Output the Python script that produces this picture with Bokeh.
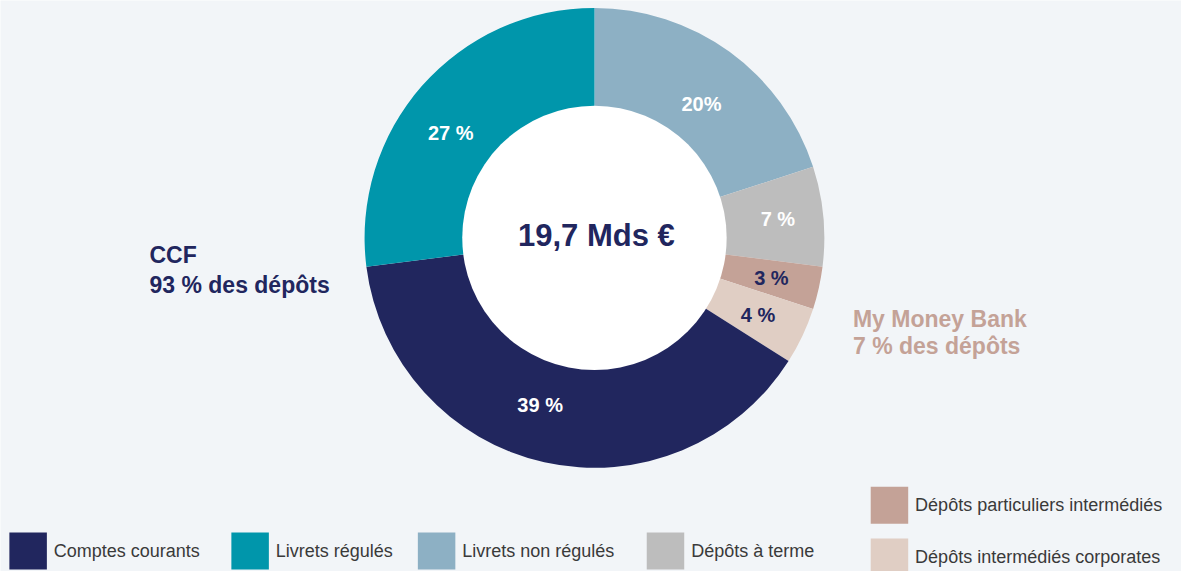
import math
from bokeh.plotting import figure
from bokeh.models import Range1d, ColumnDataSource
from bokeh.embed import file_html
from bokeh.resources import INLINE
from bokeh.core.properties import value

# ---- data ----
categories = ["Livrets non régulés", "Dépôts à terme", "Dépôts particuliers intermédiés",
              "Dépôts intermédiés corporates", "Comptes courants", "Livrets régulés"]
shares = [20, 7, 3, 4, 39, 27]
slice_labels = ["20%", "7 %", "3 %", "4 %", "39 %", "27 %"]
colors = ["#8DB0C4", "#BDBDBD", "#C4A297", "#E0CEC4", "#21265E", "#0096AB"]
label_colors = ["#FFFFFF", "#FFFFFF", "#21265E", "#21265E", "#FFFFFF", "#FFFFFF"]
legend_order = ["Comptes courants", "Livrets régulés", "Livrets non régulés", "Dépôts à terme",
                "Dépôts particuliers intermédiés", "Dépôts intermédiés corporates"]
center_text = "19,7 Mds €"
ccf_lines = ["CCF", "93 % des dépôts"]
mmb_lines = ["My Money Bank", "7 % des dépôts"]

# ---- layout / style ----
BG = "#F2F5F8"
NAVY = "#21265E"
ROSE = "#C4A297"
FONT = "Liberation Sans"
W, H = 1181, 571
REF_W, REF_H = 1197, 587
cx, cy = 602, REF_H - 244
R_OUT, R_IN = 233, 134
label_r = [175, 187, 184, 184, 180, 181]
label_nudge_deg = [2.3, -0.7, 0.3, 0.5, 5.2, -5.0]   # clockwise nudges

def fy(y):
    return REF_H - y

p = figure(width=W, height=H, output_backend="svg", toolbar_location=None,
           x_range=Range1d(0, REF_W), y_range=Range1d(0, REF_H),
           min_border=0, background_fill_color=BG, border_fill_color=BG,
           outline_line_color=None)
p.axis.visible = False
p.grid.visible = False

total = sum(shares)
starts, ends, lx, ly = [], [], [], []
cum = 0
for s, r, nd in zip(shares, label_r, label_nudge_deg):
    a0 = math.pi / 2 - 2 * math.pi * cum / total
    a1 = math.pi / 2 - 2 * math.pi * (cum + s) / total
    mid = (a0 + a1) / 2 - math.radians(nd)
    starts.append(a0)
    ends.append(a1)
    lx.append(cx + r * math.cos(mid))
    ly.append(cy + r * math.sin(mid))
    cum += s

src = ColumnDataSource(dict(start=starts, end=ends, color=colors, cat=categories,
                            lx=lx, ly=ly, lab=slice_labels, lc=label_colors))
p.annular_wedge(x=cx, y=cy, inner_radius=R_IN - 2, outer_radius=R_OUT,
                start_angle="start", end_angle="end", direction="clock",
                fill_color="color", line_color=None, source=src)
p.circle(x=[cx], y=[cy], radius=R_IN, fill_color="#FFFFFF", line_color=None)

p.text(x="lx", y="ly", text="lab", text_color="lc", source=src,
       text_font=value(FONT), text_font_style="bold", text_font_size="20px",
       text_align="center", text_baseline="middle")

p.text(x=[cx + 2], y=[cy + 2], text=[center_text], text_color=NAVY,
       text_font=value(FONT), text_font_style="bold", text_font_size="31px",
       text_align="center", text_baseline="middle")

# group annotations
for i, t in enumerate(ccf_lines):
    p.text(x=[151], y=[fy(262 + 30 * i)], text=[t], text_color=NAVY,
           text_font=value(FONT), text_font_style="bold", text_font_size="23px",
           text_align="left", text_baseline="alphabetic")
for i, t in enumerate(mmb_lines):
    p.text(x=[864], y=[fy(327 + 28 * i)], text=[t], text_color=ROSE,
           text_font=value(FONT), text_font_style="bold", text_font_size="23px",
           text_align="left", text_baseline="alphabetic")

# legend
leg_pos = [(28, 566), (253, 566), (442, 566), (674, 566), (901, 519), (901, 572)]
col_of = dict(zip(categories, colors))
lsx = [x for x, _ in leg_pos]
lsy = [fy(y) for _, y in leg_pos]
p.rect(x=lsx, y=lsy, width=38, height=38, fill_color=[col_of[c] for c in legend_order],
       line_color=None)
p.text(x=[x + 26 for x in lsx[:5]], y=lsy[:5], text=legend_order[:5], text_color="#3A3A3A",
       text_font=value(FONT), text_font_size="18px",
       text_align="left", text_baseline="middle")
p.text(x=[lsx[5] + 26], y=[fy(572)], text=[legend_order[5]], text_color="#3A3A3A",
       text_font=value(FONT), text_font_size="18px",
       text_align="left", text_baseline="middle")

open("out.html", "w").write(file_html(p, INLINE))
